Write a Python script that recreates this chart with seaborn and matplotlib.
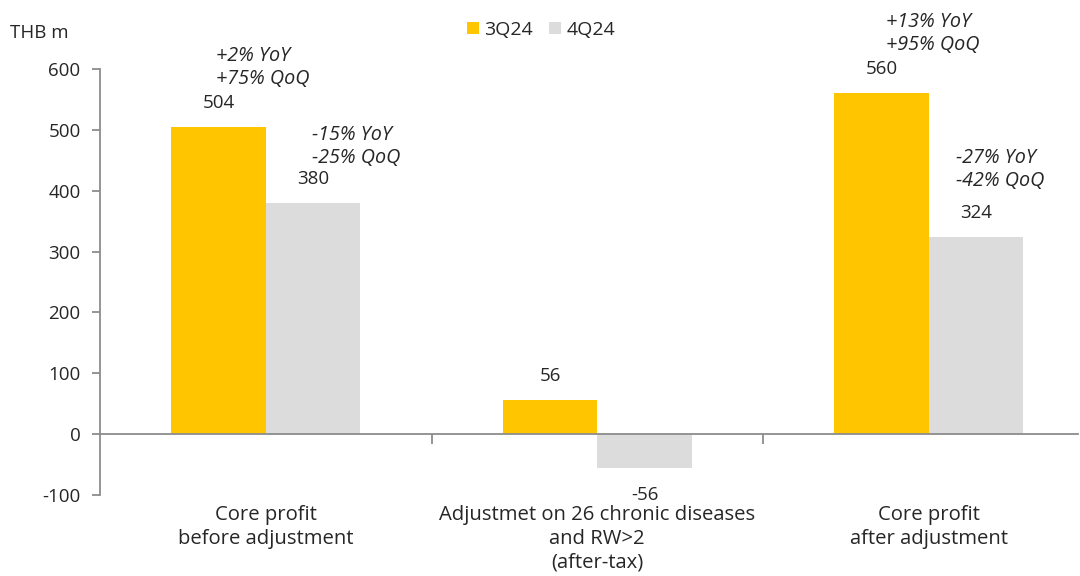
import pandas as pd
import numpy as np
import seaborn as sns
import matplotlib.pyplot as plt

categories = ['Core profit\nbefore adjustment',
              'Adjustmet on 26 chronic diseases\nand RW>2\n(after-tax)',
              'Core profit\nafter adjustment']
quarters = ['3Q24', '4Q24']
q3_values = [504, 56, 560]
q4_values = [380, -56, 324]
q3_notes = ['+2% YoY\n+75% QoQ', '', '+13% YoY\n+95% QoQ']
q4_notes = ['-15% YoY\n-25% QoQ', '', '-27% YoY\n-42% QoQ']

sns.set_style('white')
plt.rcParams['font.family'] = ['Open Sans', 'DejaVu Sans']
plt.rcParams['font.size'] = 13
plt.rcParams['axes.unicode_minus'] = False

df = pd.DataFrame({
    'Category': categories * 2,
    'Quarter': [quarters[0]] * 3 + [quarters[1]] * 3,
    'Value': q3_values + q4_values,
})

fig = plt.figure(figsize=(10.8, 5.76), dpi=100)
ax = fig.add_axes([100/1080, 81/576, 978/1080, 426/576])

sns.barplot(x='Category', y='Value', hue='Quarter', data=df, ax=ax,
            palette=['#FFC600', '#DCDCDC'], width=0.57, saturation=1,
            order=categories, hue_order=quarters, linewidth=0)

ax.set_ylim(-100, 600)
ax.set_xlim(-0.5, 2.45)
ax.set_yticks(range(-100, 601, 100))
ax.set_xlabel('')
ax.set_ylabel('')

# spines / axis style (excel-like)
grey = '#8C8C8C'
for s in ['top', 'right']:
    ax.spines[s].set_visible(False)
ax.spines['left'].set_color(grey)
ax.spines['left'].set_linewidth(1.3)
ax.spines['bottom'].set_position(('data', 0))
ax.spines['bottom'].set_color(grey)
ax.spines['bottom'].set_linewidth(1.3)
ax.tick_params(axis='y', direction='out', length=6, width=1.3, color=grey,
               pad=8, labelsize=13.5, left=True)
ax.set_xticks([0.5, 1.5])
ax.set_xticklabels([])
ax.tick_params(axis='x', direction='out', length=7, width=1.3, color=grey,
               bottom=True)

sec = ax.secondary_xaxis('bottom')
sec.set_xticks(range(len(categories)))
sec.set_xticklabels(categories, linespacing=1.27)
sec.tick_params(length=0, pad=7, labelsize=14.6)
sec.spines['bottom'].set_visible(False)

fig.text(10/1080, 1 - 33/576, 'THB m', fontsize=13.5, va='center', ha='left')

# value labels and growth notes
note_offsets = [[(-3, 43), None, (4, 43)], [(-1, 40), None, (-20, 51)]]
notes = [q3_notes, q4_notes]
for i, cont in enumerate(ax.containers):
    for j, bar in enumerate(cont):
        val = bar.get_height()
        xc = bar.get_x() + bar.get_width() / 2
        if val >= 0:
            ax.annotate(f'{val:.0f}', (xc, val), xytext=(0, 24),
                        textcoords='offset pixels', ha='center', va='center',
                        fontsize=13.5)
        else:
            ax.annotate(f'{val:.0f}', (xc, val), xytext=(0, -27),
                        textcoords='offset pixels', ha='center', va='center',
                        fontsize=13.5, annotation_clip=False)
        if notes[i][j]:
            dx, dy = note_offsets[i][j]
            ax.annotate(notes[i][j], (xc, val), xytext=(dx, dy),
                        textcoords='offset pixels', ha='left', va='baseline',
                        fontsize=14.2, style='italic', linespacing=1.2,
                        annotation_clip=False)

ax.legend(loc='center', bbox_to_anchor=(541/1080, 1 - 30/576),
          bbox_transform=fig.transFigure, ncol=2, frameon=False,
          handlelength=0.62, handleheight=0.62, handletextpad=0.3,
          columnspacing=0.8, fontsize=14)

fig.savefig('out.png', dpi=100)
plt.close(fig)
